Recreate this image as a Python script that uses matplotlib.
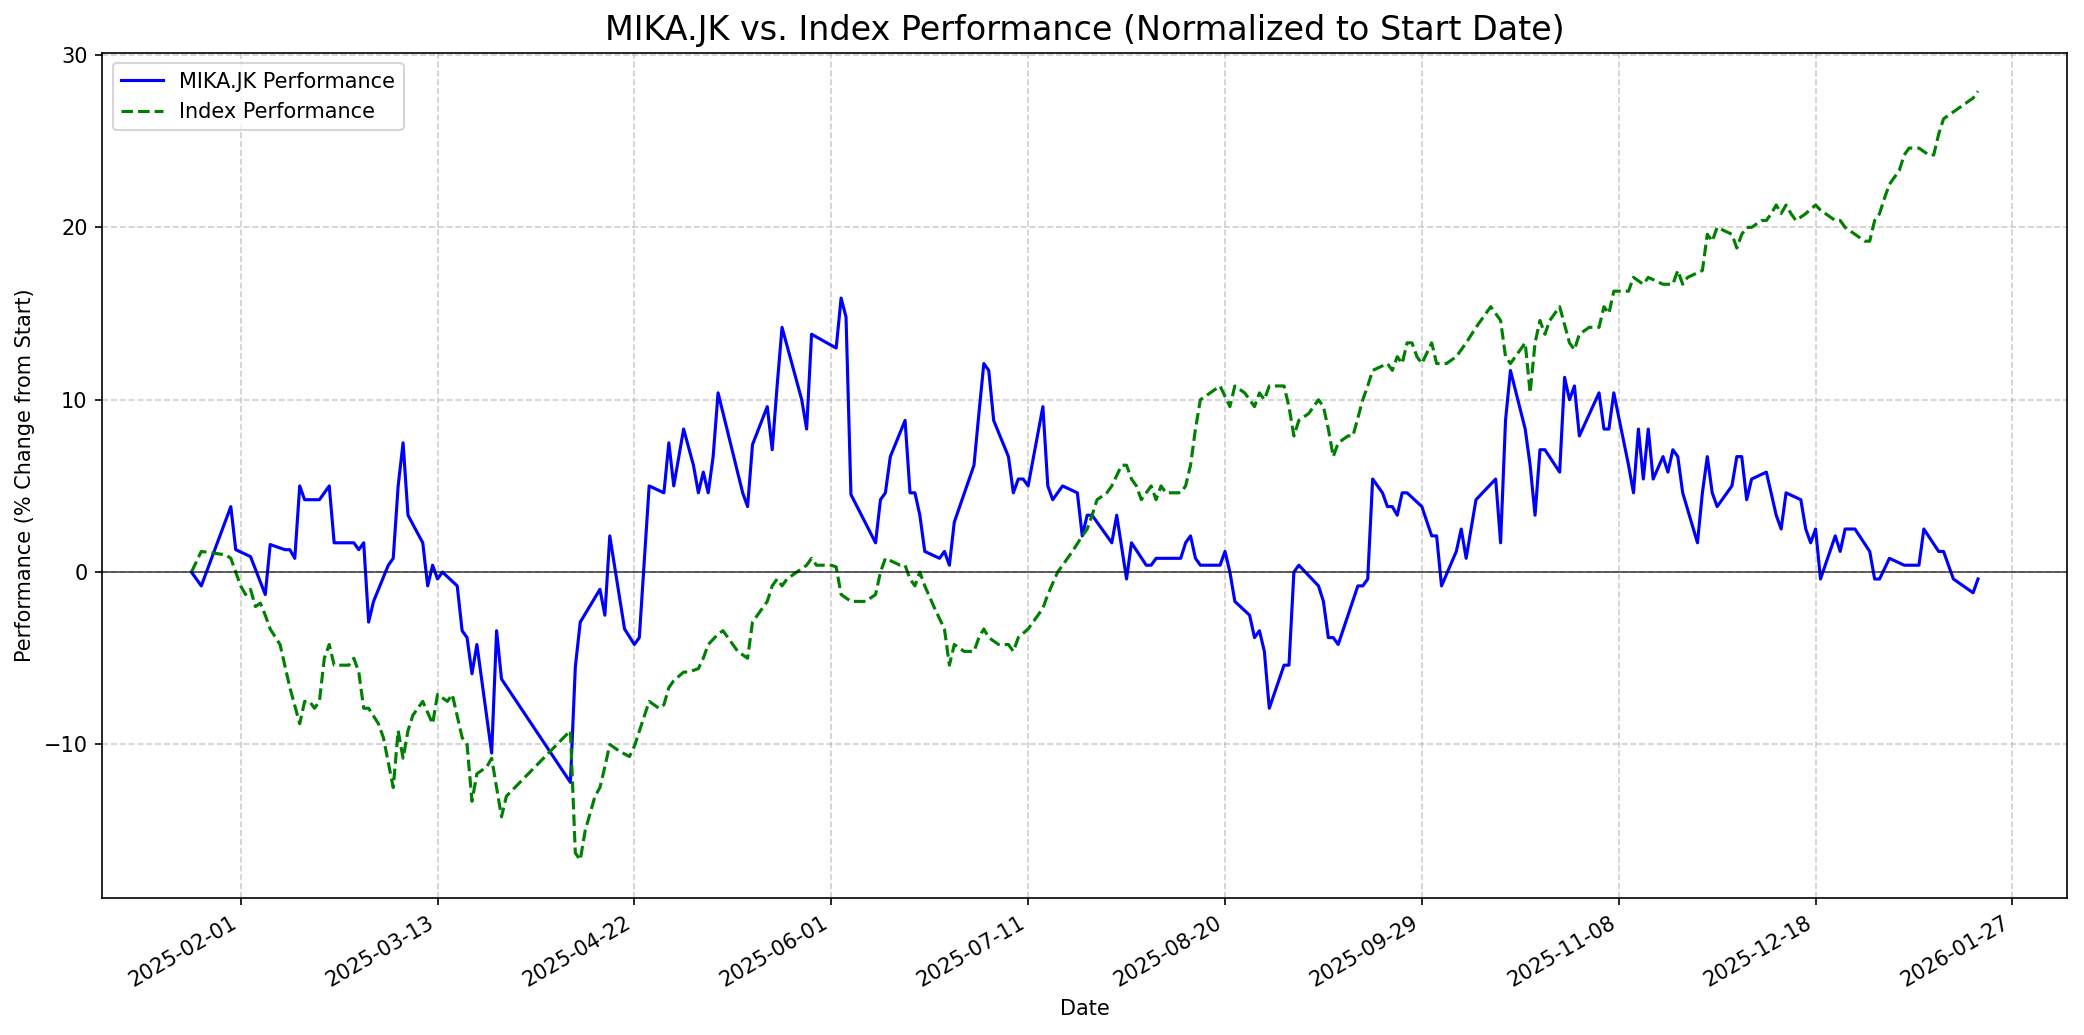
import numpy as np
import pandas as pd
from matplotlib import pyplot as plt
import matplotlib.dates as mdates

# Data: day offsets from start date, % change from start
start_date = pd.Timestamp("2025-01-22")

mika_days = [0, 2, 8, 9, 12, 15, 16, 19, 20, 21, 22, 23, 26, 28, 29, 33, 34, 35, 36, 37,
             40, 41, 42, 43, 44, 47, 48, 49, 50, 51, 54, 55, 56, 57, 58, 61, 62, 63, 77, 78,
             79, 83, 84, 85, 88, 90, 91, 93, 96, 97, 98, 100, 102, 103, 104, 105, 106, 107, 112, 113,
             114, 117, 118, 119, 120, 124, 125, 126, 131, 132, 133, 134, 139, 140, 141, 142, 145, 146, 147, 148,
             149, 152, 153, 154, 155, 159, 160, 161, 162, 163, 166, 167, 168, 169, 170, 173, 174, 175, 177, 180,
             181, 182, 183, 187, 188, 190, 191, 194, 195, 196, 201, 202, 203, 204, 205, 209, 210, 211, 212, 215,
             216, 217, 218, 219, 222, 223, 224, 225, 229, 230, 231, 232, 233, 237, 238, 239, 240, 242, 243, 244,
             245, 246, 247, 250, 252, 253, 254, 257, 258, 259, 260, 261, 265, 266, 267, 268, 271, 272, 273, 274,
             275, 278, 279, 280, 281, 282, 286, 287, 288, 289, 292, 293, 294, 295, 296, 297, 299, 300, 301, 302,
             303, 306, 307, 308, 309, 310, 313, 314, 315, 316, 317, 320, 322, 323, 324, 327, 328, 329, 330, 331,
             334, 335, 336, 338, 341, 342, 343, 345, 348, 351, 352, 355, 356, 358, 362, 363]
mika_perf = [0.0, -0.8, 3.8, 1.3, 0.9, -1.3, 1.6, 1.3, 1.3, 0.8, 5.0, 4.2, 4.2, 5.0, 1.7, 1.7, 1.3, 1.7, -2.9, -1.7,
             0.4, 0.8, 5.0, 7.5, 3.3, 1.7, -0.8, 0.4, -0.4, 0.0, -0.8, -3.4, -3.8, -5.9, -4.2, -10.5, -3.4, -6.2, -12.2, -5.5,
             -2.9, -1.0, -2.5, 2.1, -3.3, -4.2, -3.8, 5.0, 4.6, 7.5, 5.0, 8.3, 6.2, 4.6, 5.8, 4.6, 6.7, 10.4, 4.6, 3.8,
             7.4, 9.6, 7.1, 10.8, 14.2, 10.0, 8.3, 13.8, 13.0, 15.9, 14.8, 4.5, 1.7, 4.2, 4.6, 6.7, 8.8, 4.6, 4.6, 3.3,
             1.2, 0.8, 1.2, 0.4, 2.9, 6.2, 9.2, 12.1, 11.7, 8.8, 6.7, 4.6, 5.4, 5.4, 5.0, 9.6, 5.0, 4.2, 5.0, 4.6,
             2.1, 3.3, 3.3, 1.7, 3.3, -0.4, 1.7, 0.4, 0.4, 0.8, 0.8, 1.7, 2.1, 0.8, 0.4, 0.4, 1.2, 0.0, -1.7, -2.5,
             -3.8, -3.4, -4.6, -7.9, -5.4, -5.4, 0.0, 0.4, -0.8, -1.7, -3.8, -3.8, -4.2, -0.8, -0.8, -0.4, 5.4, 4.6, 3.8, 3.8,
             3.3, 4.6, 4.6, 3.8, 2.1, 2.1, -0.8, 1.2, 2.5, 0.8, 2.5, 4.2, 5.4, 1.7, 8.8, 11.7, 8.3, 6.2, 3.3, 7.1,
             7.1, 5.8, 11.3, 10.0, 10.8, 7.9, 10.4, 8.3, 8.3, 10.4, 6.2, 4.6, 8.3, 5.4, 8.3, 5.4, 6.7, 5.8, 7.1, 6.7,
             4.6, 1.7, 4.6, 6.7, 4.6, 3.8, 5.0, 6.7, 6.7, 4.2, 5.4, 5.8, 3.3, 2.5, 4.6, 4.2, 2.5, 1.7, 2.5, -0.4,
             2.1, 1.2, 2.5, 2.5, 1.2, -0.4, -0.4, 0.8, 0.4, 0.4, 2.5, 1.2, 1.2, -0.4, -1.2, -0.4]

index_days = [0, 2, 7, 8, 10, 11, 12, 13, 14, 15, 16, 18, 20, 22, 23, 24, 25, 26, 27, 28,
              29, 32, 33, 34, 35, 36, 38, 39, 41, 42, 43, 44, 45, 47, 49, 50, 52, 53, 55, 56,
              57, 58, 60, 61, 62, 63, 64, 77, 78, 79, 80, 82, 83, 84, 85, 87, 89, 90, 93, 95,
              96, 97, 98, 100, 101, 103, 104, 105, 107, 108, 111, 113, 114, 115, 116, 117, 118, 119, 120, 121,
              123, 125, 126, 127, 130, 131, 132, 134, 137, 139, 140, 141, 144, 145, 146, 147, 148, 149, 151, 153,
              154, 155, 157, 159, 160, 161, 162, 164, 166, 167, 168, 170, 171, 173, 174, 176, 178, 179, 181, 182,
              183, 184, 186, 187, 189, 190, 191, 192, 193, 194, 195, 196, 197, 198, 201, 202, 203, 204, 205, 207,
              209, 211, 212, 214, 215, 216, 217, 218, 219, 222, 223, 224, 225, 227, 228, 229, 230, 231, 232, 233,
              235, 236, 238, 239, 240, 243, 244, 245, 246, 247, 248, 249, 250, 252, 253, 255, 257, 259, 261, 262,
              263, 264, 266, 267, 268, 269, 271, 272, 273, 274, 275, 276, 278, 280, 281, 282, 284, 286, 287, 288,
              289, 292, 293, 295, 296, 299, 301, 302, 303, 304, 307, 308, 309, 310, 313, 314, 315, 316, 317, 319,
              320, 321, 322, 323, 324, 325, 326, 328, 330, 331, 334, 335, 336, 338, 340, 341, 342, 343, 344, 345,
              347, 348, 349, 351, 353, 354, 355, 356, 358, 360, 362, 363]
index_perf = [0.0, 1.2, 1.0, 0.8, -0.8, -1.3, -1.0, -2.0, -1.8, -2.5, -3.3, -4.2, -6.7, -8.8, -7.5, -7.5, -7.9, -7.5, -5.0, -4.2,
              -5.4, -5.4, -5.0, -5.8, -7.9, -7.9, -8.8, -9.6, -12.5, -9.2, -10.8, -9.2, -8.3, -7.5, -8.8, -7.1, -7.5, -7.1, -9.6, -10.0,
              -13.3, -11.7, -11.3, -10.8, -12.5, -14.2, -13.0, -9.2, -16.3, -16.7, -15.0, -13.0, -12.5, -11.3, -10.0, -10.4, -10.7, -10.1, -7.5, -7.9,
              -7.7, -6.7, -6.3, -5.8, -5.8, -5.6, -5.0, -4.2, -3.6, -3.4, -4.6, -5.0, -2.9, -2.5, -2.1, -1.7, -0.8, -0.4, -0.8, -0.4,
              0.0, 0.4, 0.8, 0.4, 0.4, 0.3, -1.3, -1.7, -1.7, -1.3, 0.0, 0.8, 0.4, 0.4, -0.4, -0.8, 0.0, -0.8, -2.1, -3.3,
              -5.4, -4.2, -4.6, -4.6, -3.8, -3.3, -3.8, -4.2, -4.2, -4.6, -3.8, -3.3, -2.9, -2.1, -1.3, 0.0, 0.8, 1.2, 2.1, 2.5,
              3.3, 4.2, 4.6, 5.0, 6.2, 6.2, 5.4, 5.0, 4.2, 4.6, 5.0, 4.2, 5.0, 4.6, 4.6, 5.0, 6.2, 8.3, 10.0, 10.4,
              10.8, 9.6, 10.8, 10.4, 10.0, 9.6, 10.4, 10.0, 10.8, 10.8, 9.6, 7.9, 8.8, 9.2, 9.6, 10.0, 9.6, 8.3, 6.7, 7.5,
              7.9, 7.9, 10.0, 10.8, 11.7, 12.1, 11.7, 12.5, 12.1, 13.3, 13.3, 12.5, 12.1, 13.3, 12.1, 12.1, 12.5, 13.3, 14.2, 14.6,
              15.0, 15.4, 14.6, 12.5, 12.1, 12.5, 13.3, 10.4, 13.3, 14.6, 13.8, 14.6, 15.4, 13.3, 12.9, 13.8, 14.2, 14.2, 15.4, 15.0,
              16.3, 16.3, 17.1, 16.7, 17.1, 16.7, 16.7, 17.5, 16.7, 17.1, 17.5, 19.6, 19.2, 20.0, 19.6, 18.8, 19.6, 20.0, 20.0, 20.4,
              20.4, 20.8, 21.3, 20.8, 21.3, 20.8, 20.4, 20.8, 21.3, 21.0, 20.4, 20.4, 20.0, 19.6, 19.2, 19.2, 20.4, 20.8, 21.7, 22.5,
              23.3, 24.2, 24.6, 24.6, 24.2, 24.2, 25.4, 26.3, 26.7, 27.1, 27.5, 27.9]

mika_dates = start_date + pd.to_timedelta(mika_days, unit="D")
index_dates = start_date + pd.to_timedelta(index_days, unit="D")

tick_dates = pd.date_range("2025-02-01", periods=10, freq="40D")

# Plotting
fig, ax = plt.subplots(figsize=(2084 / 150, 1035 / 150), dpi=150)
fig.subplots_adjust(left=0.049, right=0.992, top=0.949, bottom=0.132)

ax.plot(mika_dates, mika_perf, color="blue", linewidth=1.5, label="MIKA.JK Performance")
ax.plot(index_dates, index_perf, color="green", linestyle="--", linewidth=1.5, label="Index Performance")
ax.axhline(0, color="black", linewidth=0.8, alpha=0.7)

ax.set_title("MIKA.JK vs. Index Performance (Normalized to Start Date)", fontsize=16)
ax.set_xlabel("Date")
ax.set_ylabel("Performance (% Change from Start)")
ax.grid(True, linestyle="--", alpha=0.6)
ax.legend(loc="upper left")

ax.set_xticks(tick_dates)
ax.xaxis.set_major_formatter(mdates.DateFormatter("%Y-%m-%d"))
plt.setp(ax.get_xticklabels(), rotation=30, ha="right")

fig.savefig("out.png", dpi=150)
